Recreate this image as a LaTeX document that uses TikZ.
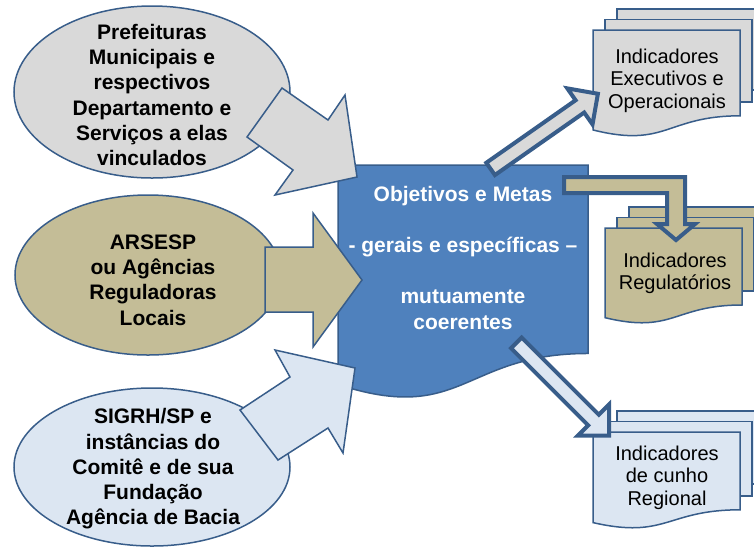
\documentclass[tikz,border=0pt]{standalone}
\usepackage{fontspec}
\setmainfont{Liberation Sans}
\usetikzlibrary{shapes.geometric}

\definecolor{boxblue}{HTML}{4F81BD}
\definecolor{edgeblue}{HTML}{385D8A}
\definecolor{fillgray}{HTML}{D9D9D9}
\definecolor{filltan}{HTML}{C4BD97}
\definecolor{fillsky}{HTML}{DCE6F2}

% document outline: x, y, width, height (wavy bottom)
\newcommand{\docpath}[4]{(#1,#2) -- (#1+#3,#2) -- (#1+#3,#2+0.802*#4) .. controls (#1+0.5*#3,#2+0.802*#4) and (#1+0.5*#3,#2+1.107*#4) .. (#1,#2+0.934*#4) -- cycle}
% block arrow along x: length, shaft half width, head half width, head length
\newcommand{\blockarrow}[4]{(0,-#2) -- (#1-#4,-#2) -- (#1-#4,-#3) -- (#1,0) -- (#1-#4,#3) -- (#1-#4,#2) -- (0,#2) -- cycle}

\begin{document}
\begin{tikzpicture}[x=1pt,y=-1pt]

    \tikzset{
      source/.style={
        ellipse,
        draw=edgeblue,
        line width=1.5pt,
        inner sep=0pt,
      },
      sourcetext/.style={
        align=center,
        font=\fontsize{21}{25.3}\selectfont\bfseries,
      },
      goaltext/.style={
        align=center,
        text=white,
        font=\fontsize{21}{25.5}\selectfont\bfseries,
      },
      doctext/.style={
        align=center,
        font=\fontsize{20}{22.5}\selectfont,
      },
      docline/.style={draw=edgeblue, line width=1.5pt},
      inarrow/.style={draw=edgeblue, line width=1.5pt},
      outarrow/.style={draw=edgeblue, line width=4pt},
    }
    \useasboundingbox (0,0) rectangle (754,550);
    \clip (0,0) rectangle (754,550);

    \node[source, fill=fillgray, minimum width=276, minimum height=172] (prefeituras) at (152,92) {};
    \node[source, fill=filltan, minimum width=266, minimum height=160] (arsesp) at (148,275) {};
    \node[source, fill=fillsky, minimum width=276, minimum height=158] (sigrh) at (152,467) {};
    \node[sourcetext] (prefeiturastext) at (152,95) {Prefeituras\\Municipais e\\respectivos\\Departamento e\\Serviços a elas\\vinculados};
    \node[sourcetext] (arsesptext) at (153,280) {ARSESP\\ou Agências\\Reguladoras\\Locais};
    \node[sourcetext] (sigrhtext) at (153,469) {SIGRH/SP e\\instâncias do\\Comitê e de sua\\Fundação\\Agência de Bacia};

    \draw[fill=boxblue, draw=edgeblue, line width=1.5pt] \docpath{338}{165}{250}{235};
    \node[goaltext] (objetivos) at (463,258) {Objetivos e Metas\\[25.5pt]- gerais e específicas –\\[25.5pt]mutuamente\\coerentes};

    \draw[inarrow, fill=fillgray] (247,137) -- (282,88) -- (328,120) -- (345,95) -- (357,177) -- (275,195) -- (293,170) -- cycle;
    \draw[inarrow, fill=filltan] (265,247) -- (313,247) -- (313,213) -- (362,280) -- (313,347) -- (313,312) -- (265,312) -- cycle;
    \draw[inarrow, fill=fillsky] (240,410) -- (290,377) -- (275,350) -- (355,368) -- (343,453) -- (328,428) -- (278,460) -- cycle;

    \foreach \fillc/\x/\y/\w/\h in {fillgray/593/30/147/107, filltan/605/228/137/96, fillsky/593/432/147/97} {
      \draw[docline, fill=\fillc] (\x+24,\y-21) rectangle (\x+\w+24,\y+0.802*\h-26);
      \draw[docline, fill=\fillc] (\x+12,\y-10.5) rectangle (\x+\w+12,\y+0.802*\h-14);
      \draw[docline, fill=\fillc] \docpath{\x}{\y}{\w}{\h};
    }
    \node[doctext] (executivos) at (667,80.5) {Indicadores\\Executivos e\\Operacionais};
    \node[doctext] (regulatorios) at (675,273.5) {Indicadores\\Regulatórios};
    \node[doctext] (regional) at (667,477.5) {Indicadores\\de cunho\\Regional};

    \draw[outarrow, fill=fillgray, shift={(490.6,168.9)}, rotate=35] \blockarrow{131}{7.5}{22}{22};
    \draw[outarrow, fill=filltan] (564,177) -- (685,177) -- (685,224) -- (695,224) -- (676,240) -- (657,224) -- (667,224) -- (667,193) -- (564,193) -- cycle;
    \draw[outarrow, fill=fillsky, shift={(516.4,342.9)}, rotate=-45] \blockarrow{131}{7.5}{22}{22};

\end{tikzpicture}
\end{document}
